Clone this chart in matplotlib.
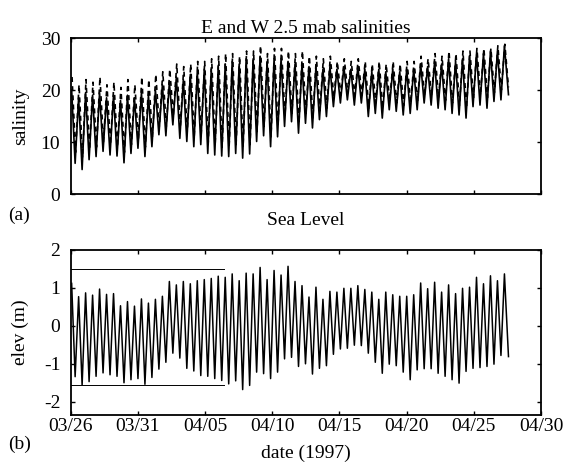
import numpy as np
import matplotlib
matplotlib.use('Agg')
import matplotlib.pyplot as plt
import matplotlib.dates as mdates

plt.rcParams['font.family'] = ['Liberation Serif', 'DejaVu Serif']
plt.rcParams['font.size'] = 14
plt.rcParams['axes.unicode_minus'] = False

# ---- data (one value per tidal high / low) ----
start_date = '1997-03-26'
tick_dates = ['03/26', '03/31', '04/05', '04/10', '04/15', '04/20', '04/25', '04/30']
first_high_day = 0.07      # days after 03/26 of the first high
tide_period = 0.5195       # days between highs
last_day = 32.58           # last sample

# sea level (m)
sea_high = [1.12, 0.77, 0.87, 0.81, 0.97, 0.83, 0.85, 0.53, 0.64, 0.52, 0.71, 0.60, 0.70, 0.78,
            1.17, 1.08, 1.17, 1.11, 1.19, 1.22,
            1.25, 1.31, 1.28, 1.37, 1.19, 1.39, 1.37, 1.54, 1.22, 1.46, 1.34, 1.57, 1.17, 1.06, 0.76,
            1.02, 0.70, 0.91, 0.89, 0.99, 0.99, 1.06, 0.96, 0.89, 0.70, 0.89, 0.82, 0.78, 0.78,
            0.82, 1.13, 0.98, 1.15, 0.89, 1.08, 0.85, 0.99, 1.02, 1.28, 1.11, 1.32, 1.19, 1.37]
sea_low = [-1.34, -1.56, -1.47, -1.33, -1.24, -1.29, -1.33, -1.50, -1.42, -1.39,
           -1.54, -1.36, -1.14, -0.96, -0.72, -0.85, -1.12, -1.19, -1.31, -1.33,
           -1.39, -1.44, -1.53, -1.45, -1.68, -1.57, -1.22, -1.26, -1.39, -1.22,
           -0.87, -0.83, -1.07, -1.00, -1.27, -1.12, -1.05, -0.75, -0.61, -0.59,
           -0.51, -0.52, -0.72, -0.96, -1.25, -1.01, -1.05, -1.22, -1.42, -1.16,
           -1.13, -1.13, -1.25, -1.33, -1.42, -1.51, -1.20, -1.12, -1.10, -1.07,
           -1.01, -0.78]
sea_end = -0.81
ref_levels = [1.5, -1.55]
ref_end_day = 11.4

# salinity, solid series
sal_e_high = [20.0, 18.5, 19.5, 19.0, 19.5, 18.5, 19.0, 18.0, 19.0, 18.5, 19.5, 19.0, 20.0,
              21.0, 21.5, 22.5, 22.0, 23.0, 23.5, 24.0,
              24.0, 24.5, 25.0, 25.5, 25.0, 26.0, 26.0, 26.5, 25.5, 26.0, 26.0, 25.5, 25.0, 25.0, 24.5,
              24.5, 24.0, 24.5, 24.0, 24.5, 24.0, 24.5, 24.0, 23.5, 24.0, 23.5, 24.0, 23.5, 24.0,
              24.0, 25.0, 24.5, 25.5, 25.0, 26.0, 25.5, 26.0, 26.5, 27.0, 27.0, 27.5, 27.5, 28.5]
sal_e_low = [5.9, 4.7, 6.6, 7.2, 8.2, 7.5, 7.3, 6.0, 7.8, 8.8,
             7.2, 9.1, 11.4, 11.2, 13.3, 10.7, 10.1, 9.1, 9.5, 7.8,
             7.5, 7.3, 7.2, 7.8, 6.9, 7.7, 10.1, 11.2, 9.1, 11.0,
             13.0, 13.9, 11.7, 13.6, 12.7, 14.3, 14.9, 16.8, 17.5, 18.1,
             17.1, 17.5, 14.9, 15.5, 14.6, 16.2, 15.9, 15.2, 15.5, 16.2,
             17.5, 17.1, 16.5, 16.2, 15.5, 15.2, 14.6, 16.8, 17.1, 16.5,
             17.8, 18.1]
sal_e_end = 19.1

# salinity, dashed series
sal_w_high = [22.5, 21.0, 22.0, 21.5, 22.5, 21.0, 21.5, 20.5, 22.0, 21.0, 22.5, 22.0, 23.0,
              23.5, 24.0, 25.0, 24.5, 25.0, 25.5, 25.5,
              26.0, 26.5, 27.0, 27.0, 26.5, 27.5, 27.5, 28.5, 27.0, 28.0, 28.0, 27.5, 27.0, 27.5, 26.5,
              26.5, 26.0, 26.5, 25.5, 26.0, 25.5, 26.0, 25.5, 25.0, 25.5, 25.0, 25.5, 25.0, 25.5,
              25.5, 26.5, 26.0, 27.0, 26.5, 27.5, 27.0, 27.5, 27.5, 28.0, 28.0, 28.0, 28.5, 28.8]
sal_w_low = [8.0, 7.0, 8.5, 9.0, 10.0, 9.5, 9.0, 8.0, 9.5, 10.5,
             9.0, 11.0, 13.0, 13.0, 15.0, 12.5, 12.0, 11.0, 11.5, 9.5,
             9.5, 9.0, 9.0, 9.5, 9.0, 9.5, 12.0, 13.0, 11.0, 13.0,
             15.0, 15.5, 13.5, 15.5, 14.5, 16.0, 16.5, 18.5, 19.0, 19.5,
             19.0, 19.0, 16.5, 17.5, 16.5, 18.0, 17.5, 17.0, 17.5, 18.0,
             19.0, 19.0, 18.5, 18.0, 17.5, 17.0, 16.5, 18.5, 19.0, 18.5,
             19.5, 20.0]
sal_w_end = 20.5


def tide_series(highs, lows, end_value, lag=0.0):
    """interleave highs and lows in time, return (date numbers, values)"""
    n = len(highs)
    t_high = first_high_day + lag + tide_period * np.arange(n)
    t_low = t_high[:-1] + tide_period / 2
    t = np.empty(2 * n)
    v = np.empty(2 * n)
    t[0:2 * n - 1:2] = t_high
    v[0:2 * n - 1:2] = highs
    t[1:2 * n - 1:2] = t_low
    v[1:2 * n - 1:2] = lows
    t[-1] = last_day
    v[-1] = end_value
    return base + t, v


base = mdates.datestr2num(start_date)
tick_pos = base + 5 * np.arange(len(tick_dates))

W, H = 570, 465
fig = plt.figure(figsize=(W / 100, H / 100), dpi=100)
# axes boxes in pixels: left, right, top, bottom
left, right = 70.7, 541
ax1 = fig.add_axes([left / W, 1 - 194 / H, (right - left) / W, 156 / H])
ax2 = fig.add_axes([left / W, 1 - 415 / H, (right - left) / W, 165 / H])

t, v = tide_series(sal_e_high, sal_e_low, sal_e_end)
ax1.plot(t, v, color='black', lw=1.2)
t, v = tide_series(sal_w_high, sal_w_low, sal_w_end, lag=0.03)
ax1.plot(t, v, color='black', lw=1.2, ls=(0, (3, 2.5)))
ax1.set_ylim(0, 30)
ax1.set_yticks([0, 10, 20, 30])
ax1.set_ylabel('salinity')
ax1.set_title('E and W 2.5 mab salinities', fontsize=14, pad=3.6)

t, v = tide_series(sea_high, sea_low, sea_end)
ax2.plot(t, v, color='black', lw=1.1)
for lev in ref_levels:
    ax2.plot([base, base + ref_end_day], [lev, lev], color='black', lw=0.7)
ax2.set_ylim(-2.35, 2)
ax2.set_yticks([-2, -1, 0, 1, 2])
ax2.set_ylabel('elev (m)')
ax2.set_xlabel('date (1997)')
ax2.set_title('Sea Level', fontsize=14, pad=18)

for ax in (ax1, ax2):
    ax.set_xlim(tick_pos[0], tick_pos[-1])
    ax.set_xticks(tick_pos)
    ax.set_xticklabels(tick_dates)
    ax.tick_params(direction='in', top=True, right=True, length=3, width=1.0)
    ax.tick_params(axis='y', pad=7.5)
    ax.tick_params(axis='x', pad=2.5)
    ax.yaxis.set_label_coords((29 - left) / (right - left), 0.5)
    for s in ax.spines.values():
        s.set_linewidth(1.3)
ax1.tick_params(labelbottom=False)
ax2.xaxis.set_label_coords(0.5, (415 - 445) / 165)
ax2.xaxis.label.set_va('top')

fig.text(8 / W, 1 - 215 / H, '(a)', va='center')
fig.text(8 / W, 1 - 444 / H, '(b)', va='center')

fig.savefig('out.png', dpi=100)
